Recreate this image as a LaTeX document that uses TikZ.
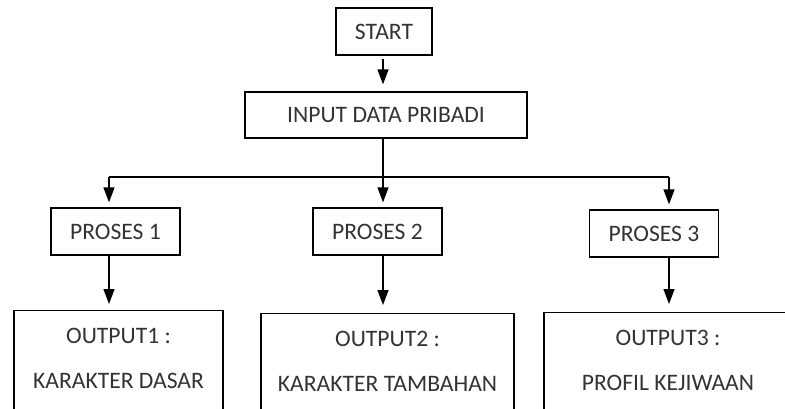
\documentclass[tikz,border=0pt]{standalone}
\usepackage{fontspec}
\setmainfont{Carlito}
\usetikzlibrary{arrows.meta}
\tikzstyle{box1}=[rectangle, draw=black, line width=0.65pt, text=black!80, inner sep=0pt,
        font=\fontsize{11.8}{22.5}\selectfont]
\tikzstyle{proc}=[box1, minimum width=64.5pt, minimum height=23.5pt]
\tikzstyle{outbox}=[box1, anchor=north, align=center, inner ysep=8.7pt, text depth=20pt]
\tikzstyle{arr}=[-{Triangle[width=5.5pt,length=7.5pt]}, line width=0.65pt]

\begin{document}
\begin{tikzpicture}[x=0.5pt,y=-0.5pt]
\useasboundingbox (0,0) rectangle (785,408);
\clip (0,0) rectangle (785,408);
\node [box1, minimum width=48pt, minimum height=23.5pt] (start) at (384,31.5) {START};
\node [box1, minimum width=141pt, minimum height=23pt] (input) at (386,115) {INPUT DATA PRIBADI};
\node [proc] (p1) at (115.5,231.5) {PROSES 1};
\node [proc] (p2) at (377.5,231.5) {PROSES 2};
\node [proc] (p3) at (654,233.5) {PROSES 3};
\node [outbox, minimum width=104.5pt] (o1) at (118.5,310) {OUTPUT1 :\\KARAKTER DASAR};
\node [outbox, minimum width=126.5pt] (o2) at (387.5,313) {OUTPUT2 :\\KARAKTER TAMBAHAN};
\node [outbox, minimum width=124pt] (o3) at (668,312) {OUTPUT3 :\\PROFIL KEJIWAAN};
\coordinate (c1) at (109,0);
\coordinate (c2) at (383,0);
\coordinate (c3) at (669,0);
\coordinate (bar) at (383,177);
\draw [arr, shorten <=1.5pt, shorten >=3.5pt] (start.south -| c2) -- (input.north -| c2);
\draw [line width=0.65pt] (input.south -| c2) -- (bar);
\draw [line width=0.65pt] (c1 |- bar) -- (c3 |- bar);
\draw [arr, shorten >=2.5pt] (c1 |- bar) -- (c1 |- p1.north);
\draw [arr, shorten >=2.5pt] (c2 |- bar) -- (c2 |- p2.north);
\draw [arr, shorten >=2.5pt] (c3 |- bar) -- (c3 |- p3.north);
\draw [arr, shorten >=3pt] (c1 |- p1.south) -- (c1 |- o1.north);
\draw [arr, shorten >=4pt] (c2 |- p2.south) -- (c2 |- o2.north);
\draw [arr, shorten >=4pt] (c3 |- p3.south) -- (c3 |- o3.north);
\end{tikzpicture}
\end{document}
